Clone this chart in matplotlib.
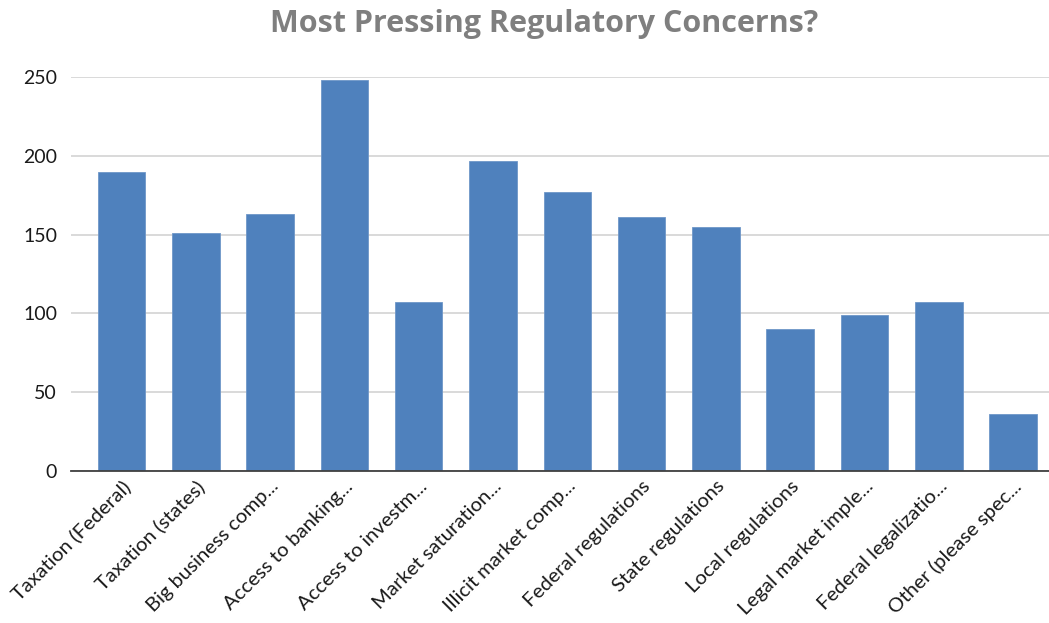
import matplotlib.pyplot as plt
import matplotlib.transforms as mtransforms

categories = ["Taxation (Federal)", "Taxation (states)", "Big business comp...",
              "Access to banking...", "Access to investm...", "Market saturation...",
              "Illicit market comp...", "Federal regulations", "State regulations",
              "Local regulations", "Legal market imple...", "Federal legalizatio...",
              "Other (please spec..."]
counts = [190, 151, 163, 248, 107, 197, 177, 161, 155, 90, 99, 107, 36]
y_ticks = [0, 50, 100, 150, 200, 250]

plt.rcParams['font.family'] = ['Lato', 'DejaVu Sans']

fig = plt.figure(figsize=(10.49, 6.23), dpi=100)
ax = fig.add_axes([0.0677, 0.244, 0.932, 0.6324])

x = range(len(categories))
ax.bar(x, counts, width=0.64, color='#4f81bd', edgecolor='#6f97c8',
       linewidth=0.6, zorder=3)

ax.set_ylim(0, 250)
ax.set_xlim(-0.68, 12.48)
ax.set_yticks(y_ticks)
ax.set_yticklabels([str(v) for v in y_ticks], fontsize=14, color='#1a1a1a')
ax.yaxis.grid(True, color='#d9d9d9', linewidth=1.4, zorder=0)
ax.tick_params(axis='y', length=0, pad=10)
ax.tick_params(axis='x', length=0, pad=9)

ax.set_xticks(list(x))
ax.set_xticklabels(categories, rotation=45, ha='right', va='center',
                   rotation_mode='anchor', fontsize=14.6, color='#1a1a1a')
# nudge the slanted labels a little to the right of the bar centres
shift = mtransforms.ScaledTranslation(6 / 100, 0, fig.dpi_scale_trans)
for lbl in ax.get_xticklabels():
    lbl.set_transform(lbl.get_transform() + shift)

for side in ['top', 'right', 'left']:
    ax.spines[side].set_visible(False)
ax.spines['bottom'].set_color('#404040')
ax.spines['bottom'].set_linewidth(1.3)
ax.spines['bottom'].set_zorder(4)

fig.suptitle("Most Pressing Regulatory Concerns?", x=0.519, y=0.985, fontsize=22,
             fontweight='bold', color='#7f7f7f', family=['Open Sans', 'DejaVu Sans'])

fig.savefig("out.png", dpi=100)
